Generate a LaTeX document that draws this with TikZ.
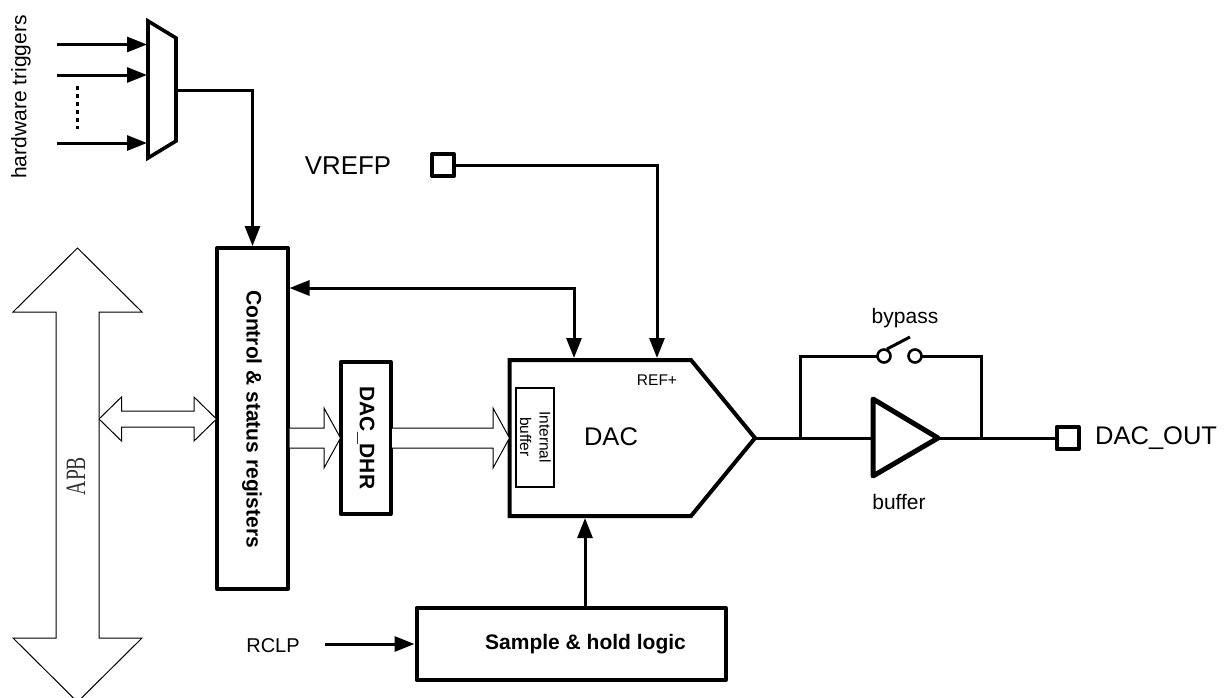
\documentclass[tikz,border=0pt]{standalone}
\usepackage{fontspec}
\setmainfont{Liberation Sans}
\newfontfamily\apbfont{Liberation Serif}
\usetikzlibrary{arrows.meta}
\newcommand{\fsz}[1]{\fontsize{#1}{#1}\selectfont}
\tikzset{
  x=1pt,y=-1pt,
  wire/.style={line width=3pt,line join=miter},
  sig/.style={wire,-{Triangle[length=20pt,width=15pt]}},
  dsig/.style={wire,{Triangle[length=20pt,width=15pt]}-{Triangle[length=20pt,width=15pt]}},
  thick box/.style={draw,line width=4pt,line join=round,fill=white,inner sep=0pt},
  pin box/.style={draw,line width=4pt,line join=round,fill=white,inner sep=0pt,minimum size=22pt},
  hollow/.style={draw,line width=1pt,fill=white,line join=miter},
  lbl/.style={inner sep=0pt,align=center},
}
\begin{document}
\begin{tikzpicture}
\clip (0,0) rectangle (1224,697);

% named anchors
\coordinate (muxNW) at (148,21);
\coordinate (muxNE) at (176,38);
\coordinate (muxSE) at (176,141);
\coordinate (muxSW) at (148,158);
\coordinate (muxOut) at (176,90);
\coordinate (in1) at (57,44.5);
\coordinate (in2) at (57,75);
\coordinate (in3) at (57,143);
\coordinate (mi1) at (147,44.5);
\coordinate (mi2) at (147,75);
\coordinate (mi3) at (147,143);
\coordinate (dotsTop) at (77,86);
\coordinate (dotsBot) at (77,129);
\coordinate (dacNW) at (509.5,360);
\coordinate (dacNE) at (691,360);
\coordinate (dacTip) at (755,438);
\coordinate (dacSE) at (691,516);
\coordinate (dacSW) at (509.5,516);
\coordinate (dacCtl) at (574,358);
\coordinate (dacRef) at (657,358);
\coordinate (dacClk) at (585,518);
\coordinate (ctlPort) at (289.5,288);
\coordinate (rclpStart) at (325,644);
\coordinate (loopL) at (800,438);
\coordinate (loopR) at (981,438);
\coordinate (swTop) at (910,337);
\coordinate (swBase) at (887,349);

% main boxes
\node[thick box,minimum width=71pt,minimum height=341pt] (ctl) at (252.5,418.5) {};
\node[thick box,minimum width=50pt,minimum height=152pt] (dhr) at (365.7,438) {};
\node[thick box,minimum width=309pt,minimum height=72pt] (sample) at (571,644) {};
\node[pin box] (vrefp) at (443,165) {};
\node[pin box] (dacout) at (1067.5,438) {};

% DAC
\draw[line width=4pt,line join=miter,fill=white] (dacNW) -- (dacNE) -- (dacTip) -- (dacSE) -- (dacSW) -- cycle;
\node[draw,line width=1.5pt,fill=white,minimum width=38pt,minimum height=99pt,inner sep=0pt] (ibuf) at (535,437.5) {};

% buffer
\node[inner sep=0pt] (bufIn) at (873,438) {};
\node[inner sep=0pt] (bufOut) at (938,438) {};

% connectors
\draw[sig] (in1) -- (mi1);
\draw[sig] (in2) -- (mi2);
\draw[sig] (in3) -- (mi3);
\draw[line width=3pt,dash pattern=on 4pt off 4pt] (dotsTop) -- (dotsBot);
\draw[sig] (muxOut) -| (ctl.north);
\draw[dsig] (ctlPort) -| (dacCtl);
\draw[sig] (vrefp.east) -| (dacRef);
\draw[sig] (sample.north -| dacClk) -- (dacClk);
\draw[sig] (rclpStart) -- (sample.west |- rclpStart);
\draw[wire] (dacTip) -- (bufIn.center);
\draw[wire] (bufOut.center) -- (dacout.west);
\draw[wire] (loopL) |- (890,356);
\draw[wire] (909,356) -| (loopR);
\draw[wire] (swBase) -- (swTop);

% mux
\draw[line width=3.6pt,line join=miter,fill=white] (muxNW) -- (muxNE) -- (muxSE) -- (muxSW) -- cycle;

% buffer triangle
\draw[line width=5pt,line join=round,fill=white] (873,399) -- (873,476) -- (bufOut.center) -- cycle;

% switch
\node[draw,circle,line width=2.6pt,fill=white,minimum size=13pt,inner sep=0pt] (swA) at (884,356) {};
\node[draw,circle,line width=2.6pt,fill=white,minimum size=13pt,inner sep=0pt] (swB) at (915,356) {};

% hollow arrows
\draw[hollow] (99,419) -- (121.5,397) -- (121.5,411) -- (194,411) -- (194,397) -- (216.5,419) -- (194,441) -- (194,427) -- (121.5,427) -- (121.5,441) -- cycle;
\draw[hollow] (289.5,428) -- (324,428) -- (324,408) -- (340.5,438) -- (324,468) -- (324,448) -- (289.5,448);
\draw[hollow] (392,428) -- (493,428) -- (493,408) -- (509.5,438) -- (493,468) -- (493,448) -- (392,448);

% APB
\draw[hollow] (77.5,248) -- (142,312) -- (99,312) -- (99,638) -- (142,638) -- (77.5,702) -- (13,638) -- (56,638) -- (56,312) -- (13,312) -- cycle;

% labels
\node[lbl,rotate=90] (apb) at (76,476) {\apbfont\fsz{28}\color{black!80}\scalebox{0.7}[1]{APB}};
\node[lbl,rotate=90] (hw) at (21,97) {\fsz{21}hardware triggers};
\node[lbl,rotate=-90] (ctlT) at (252,419) {\fsz{21}\bfseries Control \& status registers};
\node[lbl,rotate=-90] (dhrT) at (366,438) {\fsz{21}\bfseries DAC\_DHR};
\node[lbl] (sampleT) at (585.5,644) {\fsz{21}\bfseries Sample \& hold logic};
\node[lbl] (dacT) at (611,437) {\fsz{25.5}DAC};
\node[lbl] (refT) at (657,380) {\fsz{15.5}REF+};
\node[lbl,rotate=-90,font=\fsz{15.5}] (ibufT) at (535.5,437) {Internal\\[4pt]buffer};
\node[lbl] (vT) at (348,166) {\fsz{25.8}VREFP};
\node[lbl,anchor=west] (oT) at (1095,438) {\fsz{25.5}DAC\_OUT};
\node[lbl] (rT) at (273,646) {\fsz{20}RCLP};
\node[lbl] (bypT) at (905,318) {\fsz{21}bypass};
\node[lbl] (bufT) at (899,502) {\fsz{21}buffer};
\end{tikzpicture}
\end{document}
